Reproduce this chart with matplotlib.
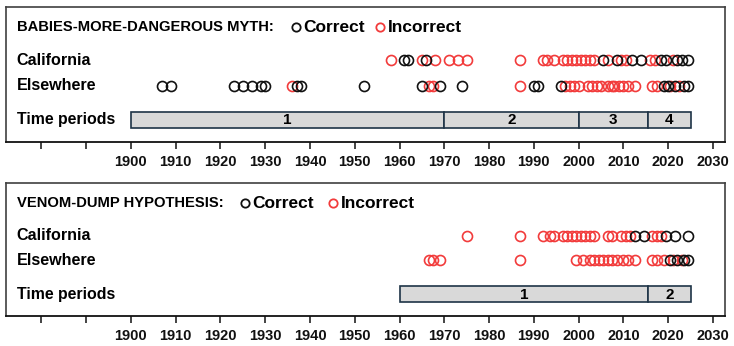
import matplotlib
matplotlib.use("Agg")
import matplotlib.pyplot as plt

# data (years of each report)
babies_cal_correct = [1961, 1962, 1966, 2005.5, 2008.5, 2012, 2014, 2018.5, 2019.5, 2022, 2023, 2024.5]
babies_cal_incorrect = [1958, 1965, 1968, 1971, 1973, 1975, 1987, 1992, 1993, 1994.5, 1996.5, 1997.5,
                        1998.5, 1999.5, 2000.5, 2001.5, 2002.5, 2003.5, 2006.5, 2009.5, 2010.5,
                        2016, 2017, 2021]
babies_else_correct = [1907, 1909, 1923, 1925, 1927, 1929, 1930, 1937, 1938, 1952, 1965, 1969,
                       1974, 1990, 1991, 1996, 2019, 2020, 2021.5, 2023.5, 2024.5]
babies_else_incorrect = [1936, 1966.5, 1967.5, 1987, 1997, 1998, 1999, 2000, 2002, 2003, 2004,
                         2005, 2006.5, 2007.5, 2008, 2009, 2010, 2011, 2012.5, 2016.5, 2017.5,
                         2020.5, 2022.5]
babies_periods = [1900, 1970, 2000, 2015.5, 2025]

venom_cal_correct = [2012.5, 2014.5, 2019.5, 2021.5, 2024.5]
venom_cal_incorrect = [1975, 1987, 1992, 1993.5, 1994.5, 1996.5, 1997.5, 1998.5, 1999.5, 2000.5,
                       2001.5, 2002.5, 2003.5, 2006.5, 2007.5, 2009.5, 2010.5, 2011.5, 2016.5,
                       2017.5, 2018.5]
venom_else_correct = [2020.5, 2022, 2023.5, 2024.5]
venom_else_incorrect = [1966.5, 1967.5, 1969, 1987, 1999.5, 2001, 2002.5, 2003.5, 2004.5, 2005.5,
                        2006.5, 2007.5, 2008.5, 2010, 2011, 2012.5, 2016.5, 2017.5, 2019, 2021, 2023]
venom_periods = [1960, 2015.5, 2025]

row_labels = ["California", "Elsewhere"]
tick_years = list(range(1880, 2031, 10))

RED = "#f23b3b"
BLACK = "#111111"
NARROW = ["Liberation Sans Narrow", "Liberation Sans", "DejaVu Sans"]
WIDE = ["Liberation Sans", "DejaVu Sans"]


def draw_panel(ax, title, legend_x, rows, periods):
    # y is in pixels from the top of the box
    ax.set_xlim(1872.1, 2032.7)
    ax.set_ylim(134, 0)
    trans = ax.get_yaxis_transform()

    ax.text(0.015, 20, title, transform=trans, ha="left", va="center",
            fontsize=10.6, fontweight="bold", family=WIDE)
    # legend
    ax.plot([legend_x[0]], [20], "o", transform=trans, ms=6, mfc="none", mec=BLACK, mew=1.3, clip_on=False)
    ax.text(legend_x[0] + 0.011, 20.5, "Correct", transform=trans, ha="left", va="center",
            fontsize=12.5, fontweight="bold", family=NARROW)
    ax.plot([legend_x[1]], [20], "o", transform=trans, ms=6, mfc="none", mec=RED, mew=1.3, clip_on=False)
    ax.text(legend_x[1] + 0.011, 20.5, "Incorrect", transform=trans, ha="left", va="center",
            fontsize=12.5, fontweight="bold", family=NARROW)

    for y, label, (correct, incorrect) in zip([53, 78], row_labels, rows):
        ax.text(0.015, y, label, transform=trans, ha="left", va="center",
                fontsize=11.6, fontweight="bold", family=NARROW)
        ax.plot(incorrect, [y] * len(incorrect), "o", ms=7.2, mfc="none", mec=RED, mew=1.2, ls="none")
        ax.plot(correct, [y] * len(correct), "o", ms=7.2, mfc="none", mec=BLACK, mew=1.2, ls="none")

    ax.text(0.015, 112, "Time periods", transform=trans, ha="left", va="center",
            fontsize=11.4, fontweight="bold", family=NARROW)
    starts = periods[:-1]
    widths = [b - a for a, b in zip(periods[:-1], periods[1:])]
    ax.barh([112] * len(starts), widths, left=starts, height=16, color="#d9d9d9",
            edgecolor="#1e3447", linewidth=1.2)
    for i, (a, w) in enumerate(zip(starts, widths)):
        ax.text(a + w / 2, 112.5, str(i + 1), ha="center", va="center",
                fontsize=11, fontweight="bold", family=NARROW)

    ax.set_yticks([])
    ax.set_xticks(tick_years)
    ax.set_xticklabels([str(t) if t >= 1900 else "" for t in tick_years])
    for lbl in ax.get_xticklabels():
        lbl.set_fontweight("bold")
        lbl.set_family(NARROW)
        lbl.set_fontsize(10.5)
    ax.tick_params(axis="x", direction="out", length=5, width=1.1, pad=4, colors="#111111")
    for side in ["top", "left", "right"]:
        ax.spines[side].set_color("#404040")
        ax.spines[side].set_linewidth(1.2)
    ax.spines["bottom"].set_color("#111111")
    ax.spines["bottom"].set_linewidth(1.3)


fig = plt.figure(figsize=(7.34, 3.46), dpi=100)
W, H = 734, 346
ax1 = fig.add_axes([6 / W, 1 - 142 / H, 719 / W, 135 / H])
ax2 = fig.add_axes([6 / W, 1 - 316 / H, 719 / W, 133 / H])

draw_panel(ax1, "BABIES-MORE-DANGEROUS MYTH:", (0.403, 0.520),
           [(babies_cal_correct, babies_cal_incorrect), (babies_else_correct, babies_else_incorrect)],
           babies_periods)
draw_panel(ax2, "VENOM-DUMP HYPOTHESIS:", (0.332, 0.455),
           [(venom_cal_correct, venom_cal_incorrect), (venom_else_correct, venom_else_incorrect)],
           venom_periods)

fig.savefig("out.png", dpi=100)
